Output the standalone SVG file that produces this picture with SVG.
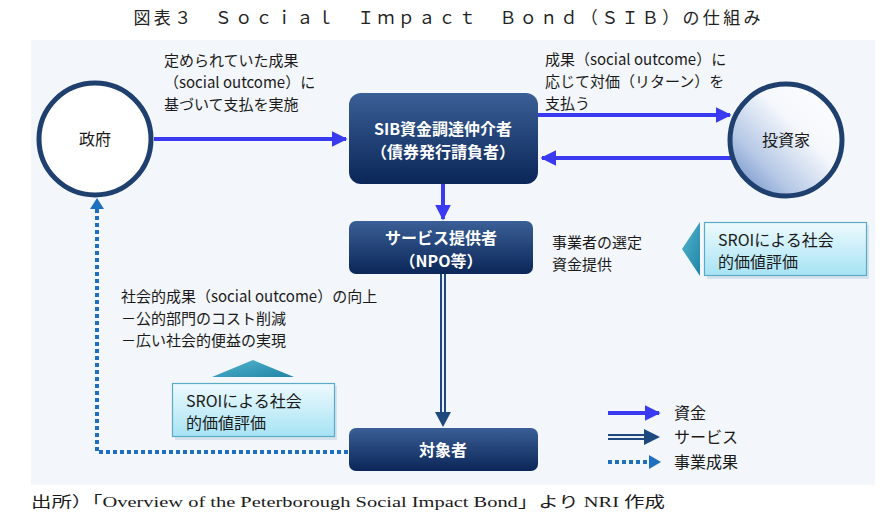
<svg xmlns="http://www.w3.org/2000/svg" width="891" height="523" viewBox="0 0 891 523">
<style>
text{font-family:"Noto Sans CJK JP","Noto Sans",sans-serif;fill:#1a1a1a;font-size:15px}
.w{fill:#fff;font-weight:bold;font-size:16px}
.c{text-anchor:middle}
.fund{stroke:#3a3af2;stroke-width:4;fill:none}
.dot{stroke:#1f6fc0;stroke-width:4;fill:none;stroke-dasharray:4 3}
</style>
<defs>
<linearGradient id="box" x1="0" y1="0" x2="0" y2="1"><stop offset="0" stop-color="#3a5f96"/><stop offset="1" stop-color="#0b2658"/></linearGradient>
<linearGradient id="inv" x1="1" y1="0" x2="0" y2="1"><stop offset="0" stop-color="#ffffff"/><stop offset="0.4" stop-color="#f4f7fc"/><stop offset="0.7" stop-color="#b7c9e6"/><stop offset="1" stop-color="#5f84c2"/></linearGradient>
<linearGradient id="sroi" x1="0" y1="0" x2="0" y2="1"><stop offset="0" stop-color="#eefafe"/><stop offset="1" stop-color="#a6e3f4"/></linearGradient>
<linearGradient id="tri" x1="0" y1="0" x2="1" y2="1"><stop offset="0" stop-color="#56b6cf"/><stop offset="1" stop-color="#1f84a6"/></linearGradient>
<marker id="ab" viewBox="0 0 10 10" refX="9" refY="5" markerWidth="4" markerHeight="4" orient="auto" markerUnits="strokeWidth"><path d="M0,0L10,5L0,10z" fill="#3a3af2"/></marker>
</defs>
<rect x="0" y="0" width="891" height="523" fill="#fff"/>
<text x="447" y="24" class="c" style="font-size:17px;fill:#222" textLength="627" lengthAdjust="spacing">図表３　Ｓｏｃｉａｌ　Ｉｍｐａｃｔ　Ｂｏｎｄ（ＳＩＢ）の仕組み</text>
<rect x="31" y="40" width="844" height="445" fill="#f3f6fa"/>

<g id="connectors">
<line class="fund" x1="154" y1="139" x2="346" y2="139" marker-end="url(#ab)"/>
<line class="fund" x1="538" y1="115" x2="730" y2="115" marker-end="url(#ab)"/>
<line class="fund" x1="731" y1="158" x2="542" y2="158" marker-end="url(#ab)"/>
<line class="fund" x1="443" y1="184" x2="443" y2="219" marker-end="url(#ab)"/>
<line x1="443" y1="274" x2="443" y2="414" stroke="#1f4a80" stroke-width="6"/>
<line x1="443" y1="274" x2="443" y2="414" stroke="#eef2f8" stroke-width="2"/>
<path d="M435,412L451,412L443,427z" fill="#1f4a80"/>
<path class="dot" d="M348,452H97V208"/>
<path d="M90,209L104,209L97,198z" fill="#1f6fc0"/>
</g>

<g id="gov">
<circle cx="95" cy="139" r="56" fill="#fff" stroke="#1f3f6e" stroke-width="5"/>
<text x="95" y="145" class="c" style="font-size:16px">政府</text>
</g>

<g id="investor">
<circle cx="786" cy="140" r="56" fill="url(#inv)" stroke="#1f3f6e" stroke-width="5"/>
<text x="786" y="146" class="c" style="font-size:16px">投資家</text>
</g>

<g id="sib">
<rect x="349" y="93" width="189" height="91" rx="12" fill="url(#box)"/>
<text x="443" y="135" class="c w">SIB資金調達仲介者</text>
<text x="443" y="158" class="c w">（債券発行請負者）</text>
</g>

<g id="service">
<rect x="349" y="221" width="184" height="53" rx="7" fill="url(#box)"/>
<text x="441" y="244" class="c w">サービス提供者</text>
<text x="441" y="267" class="c w">（NPO等）</text>
</g>

<g id="target">
<rect x="349" y="428" width="189" height="43" rx="7" fill="url(#box)"/>
<text x="443" y="456" class="c w">対象者</text>
</g>

<g id="label-gov">
<text x="164" y="66">定められていた成果</text>
<text x="164" y="88">（social outcome）に</text>
<text x="164" y="110">基づいて支払を実施</text>
</g>

<g id="label-inv">
<text x="545" y="65">成果（social outcome）に</text>
<text x="545" y="87">応じて対価（リターン）を</text>
<text x="545" y="109">支払う</text>
</g>

<g id="label-select">
<text x="552" y="248">事業者の選定</text>
<text x="552" y="270">資金提供</text>
</g>

<g id="label-outcome">
<text x="121" y="302">社会的成果（social outcome）の向上</text>
<text x="121" y="324">－公的部門のコスト削減</text>
<text x="121" y="346">－広い社会的便益の実現</text>
</g>

<g id="sroi-right">
<path d="M682,249L700,222L700,276z" fill="url(#tri)"/>
<rect x="707" y="225" width="162" height="54" fill="#c9dbe6" opacity="0.7"/>
<rect x="704.5" y="222.5" width="162" height="53" fill="url(#sroi)" stroke="#5aaac8" stroke-width="1.2"/>
<text x="718" y="246" style="font-size:16px">SROIによる社会</text>
<text x="718" y="268" style="font-size:16px">的価値評価</text>
</g>

<g id="sroi-left">
<path d="M253,360L294,377L212,377z" fill="url(#tri)"/>
<rect x="175" y="386" width="162" height="54" fill="#c9dbe6" opacity="0.7"/>
<rect x="172.5" y="383.5" width="162" height="53" fill="url(#sroi)" stroke="#5aaac8" stroke-width="1.2"/>
<text x="186" y="407" style="font-size:16px">SROIによる社会</text>
<text x="186" y="429" style="font-size:16px">的価値評価</text>
</g>

<g id="legend">
<line class="fund" x1="608" y1="413" x2="659" y2="413" marker-end="url(#ab)"/>
<text x="674" y="419" style="font-size:16px">資金</text>
<line x1="608" y1="437" x2="646" y2="437" stroke="#1f4a80" stroke-width="6"/>
<line x1="608" y1="437" x2="646" y2="437" stroke="#eef2f8" stroke-width="2"/>
<path d="M644,429L660,437L644,445z" fill="#1f4a80"/>
<text x="674" y="443" style="font-size:16px">サービス</text>
<line class="dot" x1="608" y1="462" x2="650" y2="462"/>
<path d="M649,455L661,462L649,469z" fill="#1f6fc0"/>
<text x="674" y="468" style="font-size:16px">事業成果</text>
</g>

<text x="31" y="507" style="font-family:'Liberation Serif','Noto Sans CJK JP',serif;font-size:15px" textLength="634" lengthAdjust="spacingAndGlyphs">出所）「Overview of the Peterborough Social Impact Bond」より NRI 作成</text>
</svg>
